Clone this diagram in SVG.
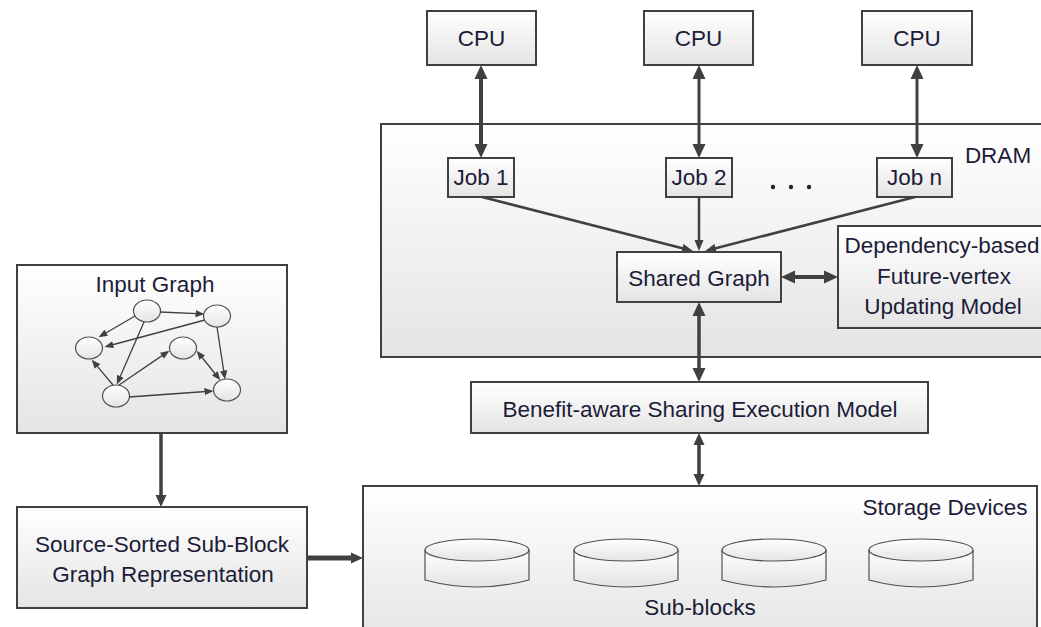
<svg xmlns="http://www.w3.org/2000/svg" width="1041" height="627" viewBox="0 0 1041 627">
<defs>
<linearGradient id="g" x1="0" y1="0" x2="0" y2="1">
<stop offset="0" stop-color="#ffffff"/>
<stop offset="1" stop-color="#e4e4e4"/>
</linearGradient>
<marker id="ah" viewBox="0 -7 14 14" markerUnits="userSpaceOnUse" markerWidth="14" markerHeight="14" refX="1" refY="0" orient="auto-start-reverse">
<path d="M0,-6.5 L14,0 L0,6.5 z" fill="#404040"/>
</marker>
<marker id="am" viewBox="0 -6 12 12" markerUnits="userSpaceOnUse" markerWidth="12" markerHeight="12" refX="1" refY="0" orient="auto-start-reverse">
<path d="M0,-5.5 L12,0 L0,5.5 z" fill="#404040"/>
</marker>
<marker id="as" viewBox="0 -5 11 10" markerUnits="userSpaceOnUse" markerWidth="11" markerHeight="10" refX="1" refY="0" orient="auto-start-reverse">
<path d="M0,-4.5 L11,0 L0,4.5 z" fill="#404040"/>
</marker>
<marker id="at" viewBox="0 -4 9 8" markerUnits="userSpaceOnUse" markerWidth="9" markerHeight="8" refX="1.5" refY="0" orient="auto-start-reverse">
<path d="M0,-3.6 L9,0 L0,3.6 z" fill="#404040"/>
</marker>
</defs>
<style>
.box{fill:url(#g);stroke:#404040;stroke-width:2}
.t{font-family:"Liberation Sans",Arial,sans-serif;fill:#1c1c38;text-anchor:middle;font-size:22.5px}
.c{stroke:#404040;fill:none}
.nd{fill:url(#g);stroke:#505050;stroke-width:1.2}
</style>
<rect width="1041" height="627" fill="#ffffff"/>

<g id="dram">
<rect class="box" x="381" y="124" width="680" height="233"/>
<text class="t" x="998" y="163" font-size="21.5">DRAM</text>
</g>
<g id="storage">
<rect class="box" x="363" y="486" width="674" height="160"/>
<text class="t" x="945" y="515">Storage Devices</text>
<text class="t" x="700" y="615">Sub-blocks</text>
</g>

<g id="cpu1"><rect class="box" x="427" y="11" width="109" height="54"/><text class="t" x="481.5" y="46" font-size="20.5">CPU</text></g>
<g id="cpu2"><rect class="box" x="644" y="11" width="109" height="54"/><text class="t" x="698.5" y="46" font-size="20.5">CPU</text></g>
<g id="cpu3"><rect class="box" x="862" y="11" width="110" height="54"/><text class="t" x="917" y="46" font-size="20.5">CPU</text></g>

<g id="job1"><rect class="box" x="448" y="158" width="66" height="39"/><text class="t" x="481" y="185" font-size="21.5">Job 1</text></g>
<g id="job2"><rect class="box" x="666" y="158" width="66" height="39"/><text class="t" x="699" y="185" font-size="21.5">Job 2</text></g>
<g id="jobn"><rect class="box" x="877" y="158" width="75" height="39"/><text class="t" x="914.5" y="185" font-size="21.5">Job n</text></g>
<g id="dots" fill="#222">
<circle cx="773" cy="187" r="2.2"/><circle cx="791" cy="187" r="2.2"/><circle cx="809" cy="187" r="2.2"/>
</g>

<g id="shared"><rect class="box" x="617" y="252" width="164" height="50"/><text class="t" x="699" y="286" font-size="21.5">Shared Graph</text></g>
<g id="dependency">
<rect class="box" x="838" y="226" width="220" height="102"/>
<text class="t" x="942" y="253" font-size="23">Dependency-based</text>
<text class="t" x="944" y="284" font-size="23.5">Future-vertex</text>
<text class="t" x="943" y="314" font-size="23.5">Updating Model</text>
</g>
<g id="benefit"><rect class="box" x="471" y="382" width="457" height="51"/><text class="t" x="700" y="417" font-size="24.2">Benefit-aware Sharing Execution Model</text></g>

<g id="input">
<rect class="box" x="17" y="265" width="270" height="168"/>
<text class="t" x="155" y="292" font-size="23.6">Input Graph</text>
<ellipse class="nd" cx="147" cy="311" rx="13.5" ry="11"/>
<ellipse class="nd" cx="217" cy="316" rx="13.5" ry="11"/>
<ellipse class="nd" cx="89" cy="348" rx="13.5" ry="11"/>
<ellipse class="nd" cx="183" cy="348" rx="13.5" ry="11"/>
<ellipse class="nd" cx="116" cy="396" rx="13.5" ry="11"/>
<ellipse class="nd" cx="227" cy="390" rx="13.5" ry="11"/>
<g class="c" stroke-width="1.3">
<line x1="160" y1="312" x2="197" y2="313.7" marker-end="url(#at)"/>
<line x1="135" y1="316" x2="105" y2="333.5" marker-end="url(#at)"/>
<line x1="205" y1="320" x2="111.7" y2="345" marker-end="url(#at)"/>
<line x1="144" y1="322" x2="119.8" y2="377.6" marker-end="url(#at)"/>
<line x1="113" y1="385" x2="96.5" y2="365.4" marker-end="url(#at)"/>
<line x1="119" y1="385" x2="163.2" y2="354.9" marker-end="url(#at)"/>
<line x1="201.3" y1="356.5" x2="215.7" y2="374.5" marker-start="url(#at)" marker-end="url(#at)"/>
<line x1="217" y1="327" x2="223.9" y2="372.1" marker-end="url(#at)"/>
<line x1="129" y1="397" x2="206" y2="391.5" marker-end="url(#at)"/>
</g>
</g>

<g id="source">
<rect class="box" x="17" y="507" width="290" height="101"/>
<text class="t" x="162" y="552">Source-Sorted Sub-Block</text>
<text class="t" x="163" y="582" font-size="23.4">Graph Representation</text>
</g>

<g id="cylinders">
<g id="cyl1" transform="translate(477,0)"><path class="nd" d="M-52,550 L-52,580 Q0,594 52,580 L52,550"/><ellipse class="nd" cx="0" cy="550" rx="52" ry="11"/></g>
<g id="cyl2" transform="translate(626,0)"><path class="nd" d="M-52,550 L-52,580 Q0,594 52,580 L52,550"/><ellipse class="nd" cx="0" cy="550" rx="52" ry="11"/></g>
<g id="cyl3" transform="translate(774,0)"><path class="nd" d="M-52,550 L-52,580 Q0,594 52,580 L52,550"/><ellipse class="nd" cx="0" cy="550" rx="52" ry="11"/></g>
<g id="cyl4" transform="translate(921,0)"><path class="nd" d="M-52,550 L-52,580 Q0,594 52,580 L52,550"/><ellipse class="nd" cx="0" cy="550" rx="52" ry="11"/></g>
</g>

<g id="connectors" class="c">
<line x1="481" y1="78" x2="481" y2="145" stroke-width="4" marker-start="url(#ah)" marker-end="url(#ah)"/>
<line x1="699" y1="78" x2="699" y2="145" stroke-width="3" marker-start="url(#ah)" marker-end="url(#ah)"/>
<line x1="917" y1="78" x2="917" y2="145" stroke-width="3" marker-start="url(#ah)" marker-end="url(#ah)"/>
<line x1="482" y1="197" x2="683.3" y2="248.5" stroke-width="2.5" marker-end="url(#as)"/>
<line x1="699" y1="197" x2="699" y2="241" stroke-width="2.5" marker-end="url(#as)"/>
<line x1="915" y1="197" x2="714.7" y2="248.5" stroke-width="2.5" marker-end="url(#as)"/>
<line x1="794" y1="277" x2="825" y2="277" stroke-width="4" marker-start="url(#ah)" marker-end="url(#ah)"/>
<line x1="699" y1="315" x2="699" y2="369" stroke-width="3.5" marker-start="url(#ah)" marker-end="url(#ah)"/>
<line x1="699" y1="444" x2="699" y2="475" stroke-width="3.5" marker-start="url(#am)" marker-end="url(#am)"/>
<line x1="161" y1="433" x2="161" y2="496" stroke-width="3.5" marker-end="url(#am)"/>
<line x1="307" y1="558" x2="352" y2="558" stroke-width="5" marker-end="url(#am)"/>
</g>
</svg>
